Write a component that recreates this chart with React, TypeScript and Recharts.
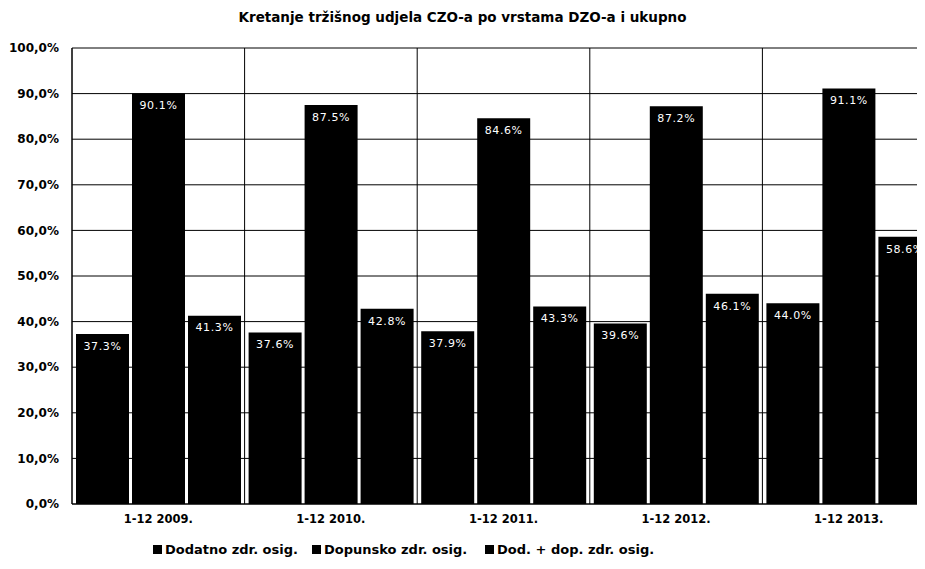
import React from 'react';
import { BarChart, Bar, XAxis, YAxis, CartesianGrid, Legend, LabelList } from 'recharts';

const categories = ['1-12 2009.', '1-12 2010.', '1-12 2011.', '1-12 2012.', '1-12 2013.'];
const dodatno = [37.3, 37.6, 37.9, 39.6, 44.0];
const dopunsko = [90.1, 87.5, 84.6, 87.2, 91.1];
const ukupno = [41.3, 42.8, 43.3, 46.1, 58.6];
const yTicks = [0, 10, 20, 30, 40, 50, 60, 70, 80, 90, 100];
const seriesNames = ['Dodatno zdr. osig.', 'Dopunsko zdr. osig.', 'Dod. + dop. zdr. osig.'];
const seriesKeys = ['dodatno', 'dopunsko', 'ukupno'];
const title = 'Kretanje tržišnog udjela CZO-a po vrstama DZO-a i ukupno';

const data = categories.map((c, i) => ({
  name: c,
  dodatno: dodatno[i],
  dopunsko: dopunsko[i],
  ukupno: ukupno[i],
}));

const FONT = '"DejaVu Sans", Arial, sans-serif';
const legendWidths = [159, 173, 180];

const fmtTick = (v: number) => v.toFixed(1).replace('.', ',') + '%';
const fmtLabel = (v: any) => Number(v).toFixed(1) + '%';

const renderLegend = (props: any) => {
  const payload = props.payload || [];
  const colorFor = (name: string) => {
    const p = payload.find((e: any) => e.value === name);
    return p ? p.color : '#000';
  };
  return (
    <div
      style={{
        display: 'flex',
        paddingLeft: 145,
        fontFamily: FONT,
        fontWeight: 'bold',
        fontSize: 13,
        color: '#000',
        height: 30,
        alignItems: 'center',
        whiteSpace: 'nowrap',
      }}
    >
      {seriesNames.map((name, i) => (
        <div key={i} style={{ display: 'flex', alignItems: 'center', width: legendWidths[i] }}>
          <span style={{ display: 'inline-block', width: 9, height: 9, background: colorFor(name), marginRight: 3 }} />
          <span>{name}</span>
        </div>
      ))}
    </div>
  );
};

const gridX = ({ offset }: any) => {
  const out: number[] = [];
  for (let i = 0; i <= categories.length; i++) {
    out.push(offset.left + (offset.width * i) / categories.length);
  }
  return out;
};

export default function App() {
  return (
    <div style={{ position: 'relative', width: 917, height: 561, overflow: 'hidden' }}>
      <div
        style={{
          position: 'absolute',
          top: 1,
          left: -8,
          width: 925,
          textAlign: 'center',
          fontFamily: FONT,
          fontWeight: 'bold',
          fontSize: 13.5,
          lineHeight: '16px',
          color: '#000',
          zIndex: 2,
        }}
      >
        {title}
      </div>
      <BarChart
        width={935}
        height={561}
        data={data}
        margin={{ top: 40, right: 8, left: 0, bottom: 5 }}
        barSize={53}
        barGap={3}
      >
        <CartesianGrid stroke="#000" strokeWidth={1} verticalCoordinatesGenerator={gridX} />
        <XAxis
          dataKey="name"
          height={30}
          tickLine={false}
          axisLine={{ stroke: '#000' }}
          tickSize={6}
          tickMargin={5}
          tick={{ fill: '#000', fontFamily: FONT, fontWeight: 'bold', fontSize: 11.5 }}
        />
        <YAxis
          width={64}
          domain={[0, 100]}
          ticks={yTicks}
          tickFormatter={fmtTick}
          tickLine={false}
          axisLine={{ stroke: '#000' }}
          tickSize={6}
          tickMargin={7}
          interval={0}
          tick={{ fill: '#000', fontFamily: FONT, fontWeight: 'bold', fontSize: 12 }}
        />
        <Legend verticalAlign="bottom" height={30} content={renderLegend} />
        {seriesKeys.map((k, i) => (
          <Bar key={k} dataKey={k} name={seriesNames[i]} fill="#000" isAnimationActive={false}>
            <LabelList
              dataKey={k}
              position="insideTop"
              offset={8}
              fill="#fff"
              fontSize={11}
              fontFamily={FONT}
              style={{ letterSpacing: 0.6 }}
              formatter={fmtLabel}
            />
          </Bar>
        ))}
      </BarChart>
    </div>
  );
}
